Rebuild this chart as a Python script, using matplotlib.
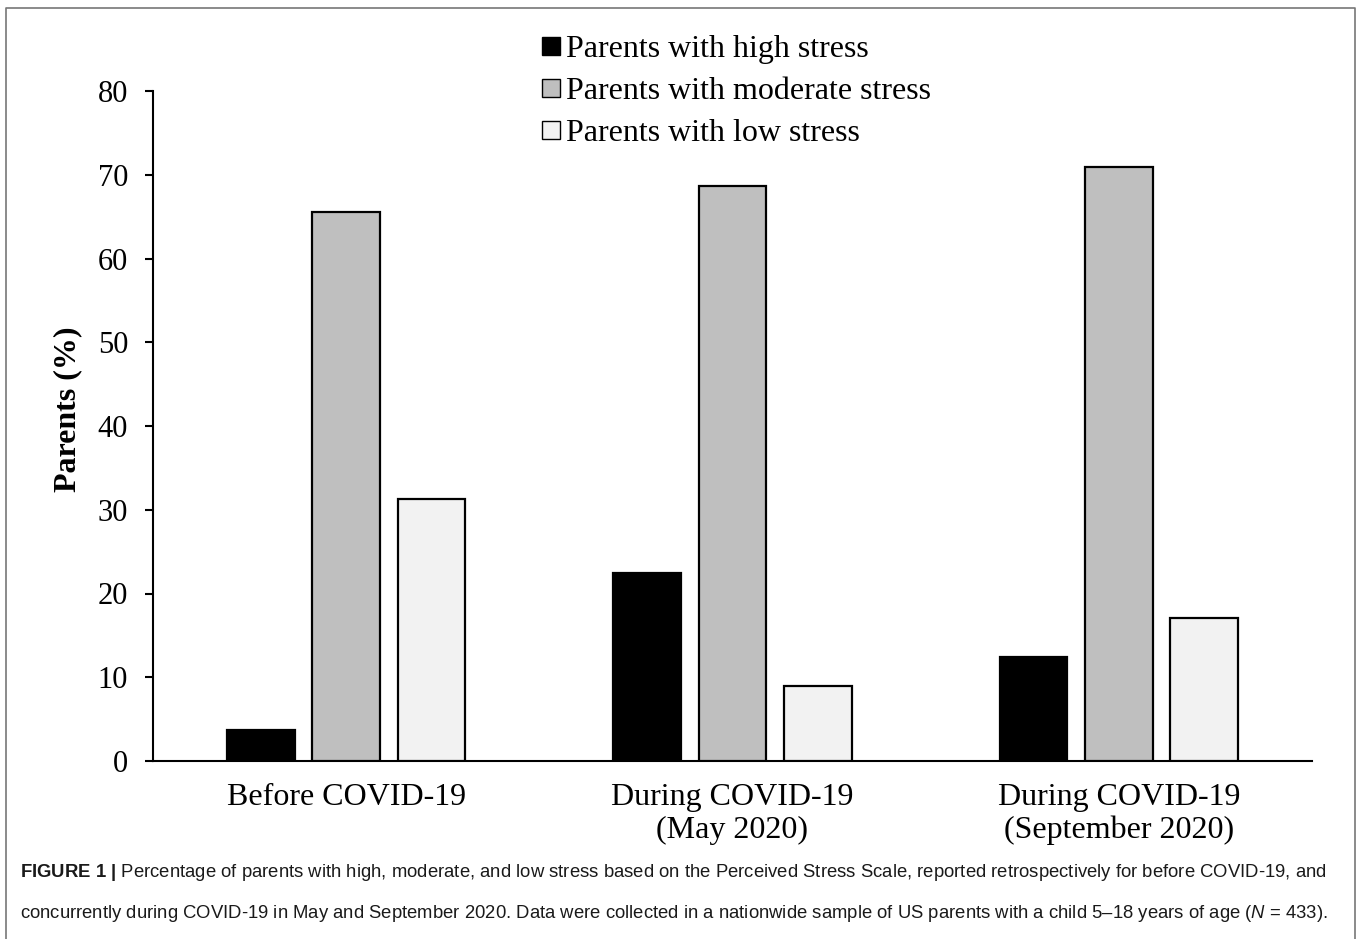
#!/usr/bin/env python3
"""Parents' perceived stress before / during COVID-19 (grouped bars + caption)."""
import matplotlib

matplotlib.use("Agg")
import matplotlib.pyplot as plt
import numpy as np
from matplotlib.patches import Patch

plt.rcParams["font.family"] = ["Liberation Serif", "DejaVu Serif"]
plt.rcParams["mathtext.fontset"] = "custom"
plt.rcParams["mathtext.rm"] = "Liberation Sans"
plt.rcParams["mathtext.it"] = "Liberation Sans:italic"
plt.rcParams["mathtext.bf"] = "Liberation Sans:bold"

categories = ["Before COVID-19", "During COVID-19\n(May 2020)", "During COVID-19\n(September 2020)"]
series_names = ["Parents with high stress", "Parents with moderate stress", "Parents with low stress"]
high_stress = [3.7, 22.4, 12.4]
moderate_stress = [65.5, 68.7, 70.9]
low_stress = [31.3, 9.0, 17.1]
yticks = [0, 10, 20, 30, 40, 50, 60, 70, 80]

COLORS = ["#000000", "#bfbfbf", "#f2f2f2"]
W, H = 1358, 939
FS = 23

fig = plt.figure(figsize=(W / 100, H / 100), dpi=100)
ax = fig.add_axes([153 / W, 1 - 761 / H, (1312 - 153) / W, (761 - 91) / H])

x = np.arange(len(categories))
bar_w = 0.175
step = 0.221
for i, (vals, color) in enumerate(zip([high_stress, moderate_stress, low_stress], COLORS)):
    ax.bar(x + (i - 1) * step, vals, width=bar_w, color=color, edgecolor="black", linewidth=1.6, zorder=3)

ax.set_xlim(-0.5, 2.5)
ax.set_ylim(0, 80)
ax.set_yticks(yticks)
ax.set_xticks(x)
ax.set_xticklabels(categories, fontsize=FS, linespacing=1.15)
ax.tick_params(axis="x", length=0, pad=16)
ax.tick_params(axis="y", labelsize=22, length=6, width=1.5, pad=12)
for side in ["top", "right"]:
    ax.spines[side].set_visible(False)
for side in ["left", "bottom"]:
    ax.spines[side].set_linewidth(1.5)

ax.set_ylabel("Parents (%)", fontsize=FS, fontweight="bold")
ax.yaxis.set_label_coords(-0.061, 0.525)

handles = [Patch(facecolor=c, edgecolor="black", linewidth=1.0) for c in COLORS]
fig.legend(handles, series_names, loc="upper left", bbox_to_anchor=(542 / W, 1 - 35 / H),
           frameon=False, fontsize=FS, handlelength=0.55, handleheight=0.5,
           handletextpad=0.2, labelspacing=0.41, borderaxespad=0, borderpad=0)

# outer frame of the figure panel
fig.add_artist(plt.Line2D([6 / W, 6 / W, 1355 / W, 1355 / W], [0, 1 - 8 / H, 1 - 8 / H, 0],
                          color="#777777", linewidth=1.2, transform=fig.transFigure))

caption = (r"$\mathbf{FIGURE\ 1\ |}$ Percentage of parents with high, moderate, and low stress based on the "
           "Perceived Stress Scale, reported retrospectively for before COVID-19, and\n"
           "concurrently during COVID-19 in May and September 2020. Data were collected in a nationwide "
           r"sample of US parents with a child 5–18 years of age ($\mathit{N}$ = 433).")
fig.text(20 / W, 1 - 893 / H, caption, fontsize=13.3, family=["Liberation Sans", "DejaVu Sans"],
         ha="left", va="center", linespacing=2.33, color="#1a1a1a")

fig.savefig("out.png", dpi=100)
